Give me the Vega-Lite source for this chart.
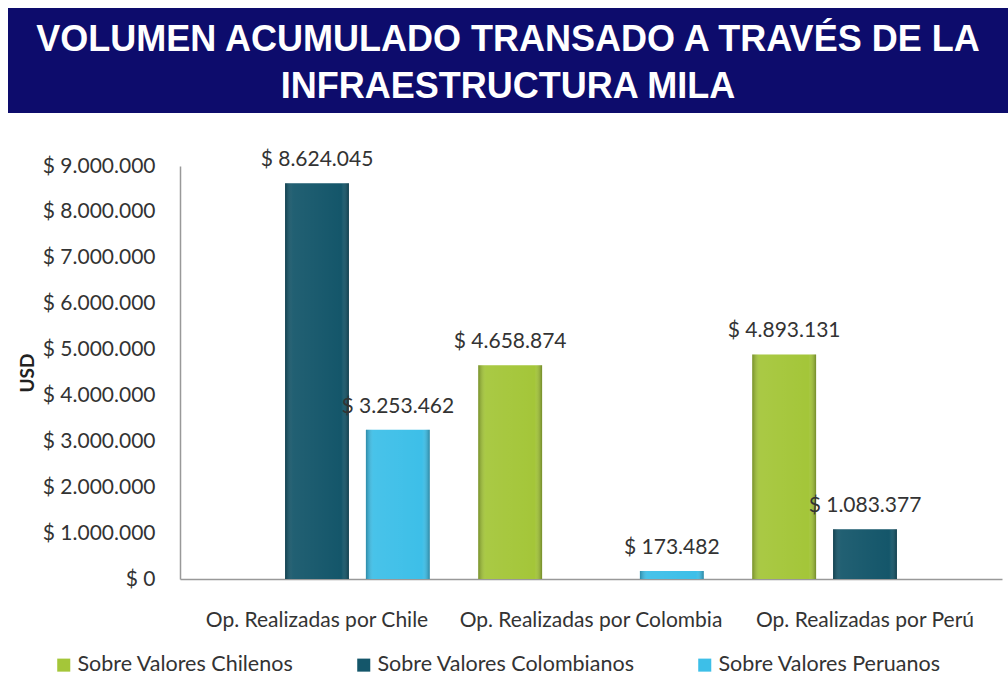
{
  "$schema": "https://vega.github.io/schema/vega-lite/v6.json",
  "padding": {"left": 8, "top": 8, "right": 0, "bottom": 0},
  "background": "white",
  "spacing": 36,
  "config": {
    "locale": {"number": {"decimal": ",", "thousands": ".", "grouping": [3], "currency": ["$ ", ""]}},
    "view": {"stroke": null},
    "font": "Lato"
  },
  "vconcat": [
    {
      "width": 1000,
      "height": 105,
      "view": {"fill": "#0d0c6c", "stroke": null},
      "data": {"values": [
        {"linea": 1, "texto": "VOLUMEN ACUMULADO  TRANSADO A TRAVÉS DE LA"},
        {"linea": 2, "texto": "INFRAESTRUCTURA MILA"}
      ]},
      "mark": {"type": "text", "font": "Liberation Sans", "fontWeight": "bold", "fontSize": 36, "color": "white", "align": "center", "baseline": "middle", "dy": 3},
      "encoding": {
        "y": {"field": "linea", "type": "ordinal", "axis": null, "scale": {"padding": 0.63}},
        "text": {"field": "texto"}
      }
    },
    {
      "width": 1000,
      "height": 413,
      "data": {"values": [
        {"grupo": "Op. Realizadas por Chile", "serie": "Sobre Valores Colombianos", "valor": 8624045},
        {"grupo": "Op. Realizadas por Chile", "serie": "Sobre Valores Peruanos", "valor": 3253462},
        {"grupo": "Op. Realizadas por Colombia", "serie": "Sobre Valores Chilenos", "valor": 4658874},
        {"grupo": "Op. Realizadas por Colombia", "serie": "Sobre Valores Peruanos", "valor": 173482},
        {"grupo": "Op. Realizadas por Perú", "serie": "Sobre Valores Chilenos", "valor": 4893131},
        {"grupo": "Op. Realizadas por Perú", "serie": "Sobre Valores Colombianos", "valor": 1083377}
      ]},
      "encoding": {
        "x": {
          "field": "grupo", "type": "nominal",
          "sort": ["Op. Realizadas por Chile", "Op. Realizadas por Colombia", "Op. Realizadas por Perú"],
          "scale": {"paddingInner": 0, "paddingOuter": 0, "range": [172, 994]},
          "axis": {"title": null, "labelAngle": 0, "labelFontSize": 21, "labelColor": "#333333", "labelPadding": 30, "labelLimit": 400, "ticks": false, "domainColor": "#999999", "domainWidth": 1.5}
        },
        "xOffset": {
          "field": "serie", "type": "nominal",
          "scale": {"domain": ["Sobre Valores Chilenos", "Sobre Valores Colombianos", "Sobre Valores Peruanos"], "paddingInner": 0.21, "paddingOuter": 0.3}
        },
        "y": {
          "field": "valor", "type": "quantitative",
          "scale": {"domain": [0, 9000000], "nice": false},
          "axis": {
            "title": "USD", "titleFontSize": 19, "titleFontWeight": "bold", "titleColor": "#222222", "titlePadding": 5,
            "offset": -172,
            "values": [0, 1000000, 2000000, 3000000, 4000000, 5000000, 6000000, 7000000, 8000000, 9000000],
            "format": "$,d", "labelFontSize": 21, "labelColor": "#333333", "labelPadding": 25,
            "ticks": false, "grid": false, "domainColor": "#999999", "domainWidth": 1.5
          }
        }
      },
      "layer": [
        {
          "mark": {"type": "bar"},
          "encoding": {
            "color": {
              "field": "serie", "type": "nominal",
              "scale": {"domain": ["Sobre Valores Chilenos", "Sobre Valores Colombianos", "Sobre Valores Peruanos"], "range": ["#a4c639", "#14566a", "#3dbfe8"]},
              "legend": {
                "title": null, "orient": "none", "legendX": 45, "legendY": 646, "direction": "horizontal", "columns": 3,
                "gridAlign": "each", "columnPadding": 59, "symbolType": "square", "symbolSize": 170, "symbolStrokeWidth": 0,
                "labelFontSize": 21.5, "labelColor": "#333333", "labelLimit": 400, "labelOffset": 3
              }
            }
          }
        },
        {
          "mark": {"type": "bar", "fill": {"gradient": "linear", "x1": 0, "x2": 1, "y1": 0, "y2": 0, "stops": [
            {"offset": 0, "color": "rgba(0,0,0,0.28)"},
            {"offset": 0.12, "color": "rgba(255,255,255,0.06)"},
            {"offset": 0.88, "color": "rgba(255,255,255,0.0)"},
            {"offset": 1, "color": "rgba(0,0,0,0.3)"}
          ]}}
        },
        {
          "mark": {"type": "text", "dy": -17, "fontSize": 21, "color": "#333333", "baseline": "alphabetic"},
          "encoding": {"text": {"field": "valor", "type": "quantitative", "format": "$,d"}}
        }
      ]
    }
  ]
}
